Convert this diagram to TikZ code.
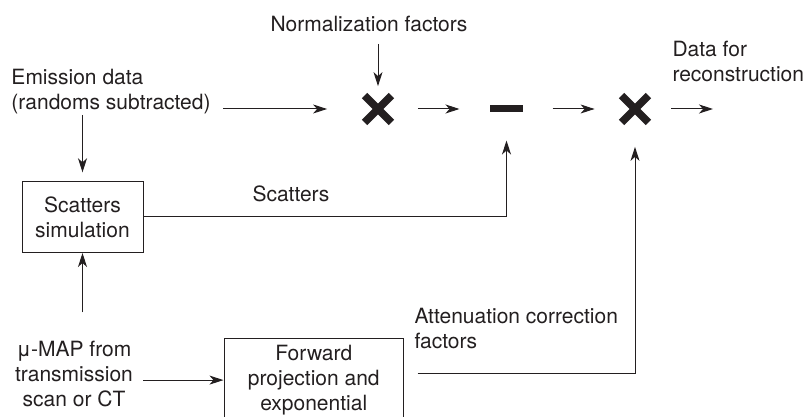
\documentclass[tikz,border=0pt]{standalone}
\usepackage{fontspec}
\setmainfont{TeX Gyre Heros}
\usepackage{tikz}
\usetikzlibrary{arrows.meta,shapes.misc}
\definecolor{ink}{RGB}{35,31,32}

\begin{document}
\begin{tikzpicture}[x=1pt,y=1pt,>={Stealth[length=14pt,width=9pt,inset=4pt]},line width=1pt,color=ink,node distance=128.5pt,
		every node/.style={font=\fontsize{21}{25}\selectfont,inner sep=0pt},
		box/.style={draw,rectangle,align=center},
		mult/.style={cross out,draw,line width=7.5pt,minimum size=21pt,outer sep=2.9pt},
		minus/.style={fill=ink,minimum width=33pt,minimum height=7pt}]
		\useasboundingbox (0,0) rectangle (806,417);
		\clip (0,0) rectangle (806,417);

		% base of a multi-line node sits on its last line
		\node			(norm)	[anchor=base]	at (369,385)	{Normalization factors};
		\node[mult]		(mult1)				at (378,308)	{};
		\node[minus]	(sub)	[right of=mult1]			{};
		\node[mult]		(mult2)	[right of=sub]			{};
		\coordinate		(out)				at (713,308);
		\node			(emis)	[anchor=base west,align=left]	at (11,307)	{Emission data\\(randoms subtracted)};
		\node			(data)	[anchor=base west,align=left]	at (672,335)	{Data for\\reconstruction};
		\node[box,minimum width=121pt,minimum height=71pt]	(scat)	at (82.5,200)	{Scatters\\simulation};
		\node			(scatl)	[anchor=base west]	at (252,215)	{Scatters};
		\node			(mu)	[anchor=base,align=center]	at (74,10)	{μ-MAP from\\transmission\\scan or CT};
		\node[box,minimum width=179.5pt,inner ysep=7pt]	(fwd)	[anchor=north]	at (313.75,79)	{Forward\\projection and\\exponential};
		\node			(attl)	[anchor=base west,align=left]	at (414,68)	{Attenuation correction\\factors};

		\path[->]
		(norm.south -| mult1)	edge	[shorten <=11pt,shorten >=9.5pt]	(mult1)
		(emis.east |- mult1)	edge	[shorten <=12pt,shorten >=37.5pt]	(mult1)
		(mult1)		edge	[shorten <=26.5pt,shorten >=30pt]	(sub)
		(sub)		edge	[shorten <=29pt,shorten >=27pt]	(mult2)
		(mult2)		edge	[shorten <=23pt]			(out)
		(emis.south -| scat)	edge	[shorten >=8.7pt]	(scat)
		(mu.north -| scat)	edge	[shorten <=28.7pt]	(scat)
		([yshift=-5.6pt]mu.east)	edge	[shorten <=10pt]	([yshift=-5.6pt]mu.east -| fwd.west)
		;

		\draw[->,shorten >=27.5pt] (scat.east) -| (sub);
		\draw[->,shorten <=13.5pt,shorten >=24.5pt] ([yshift=6.8pt]fwd.east) -| (mult2);
\end{tikzpicture}
\end{document}
